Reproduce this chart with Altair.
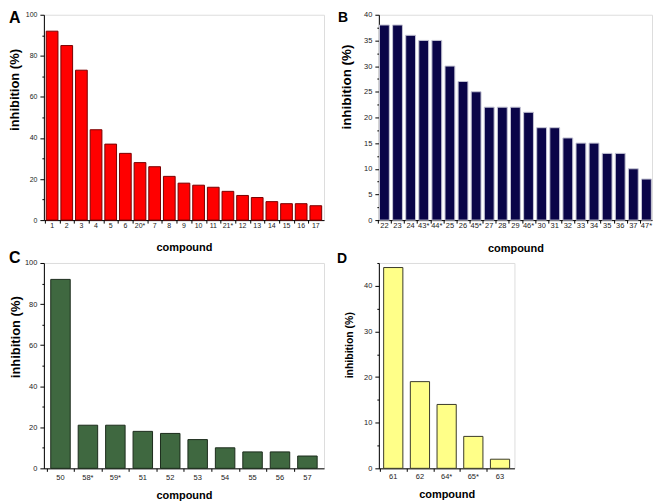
import altair as alt
import pandas as pd

# ---- data ----
a_labels = ["1", "2", "3", "4", "5", "6", "20*", "7", "8", "9", "10", "11", "21*", "12", "13", "14", "15", "16", "17"]
a_values = [92, 85, 73, 44, 37, 32.5, 28, 26, 21.3, 18, 17, 16, 14, 12, 11, 9, 8, 8, 7]

b_labels = ["22", "23", "24", "43*", "44*", "25", "26", "45*", "27", "28", "29", "46*",
            "30", "31", "32", "33", "34", "35", "36", "37", "47*"]
b_values = [38, 38, 36, 35, 35, 30, 27, 25, 22, 22, 22, 21, 18, 18, 16, 15, 15, 13, 13, 10, 8]

c_labels = ["50", "58*", "59*", "51", "52", "53", "54", "55", "56", "57"]
c_values = [92, 21, 21, 18, 17, 14, 10, 8, 8, 6]

d_labels = ["61", "62", "64*", "65*", "63"]
d_values = [44, 19, 14, 7, 2]

a_major = [0, 20, 40, 60, 80, 100]
a_minor = [10, 30, 50, 70, 90]
b_major = [0, 5, 10, 15, 20, 25, 30, 35, 40]
b_minor = [2.5, 7.5, 12.5, 17.5, 22.5, 27.5, 32.5, 37.5]
d_major = [0, 10, 20, 30, 40]
d_minor = [5, 15, 25, 35, 45]

FONT = "Liberation Sans"


def panel(letter, labels, values, major, minor, ymax, p):
    df = pd.DataFrame({"compound": labels, "inhibition": values})
    n = len(labels)
    step = p["width"] / (n - p["pi"] + 2 * p["po"])
    xscale = alt.Scale(domain=labels, paddingInner=p["pi"], paddingOuter=p["po"])
    yscale = alt.Scale(domain=[0, ymax], nice=False, zero=True)
    base = alt.Chart(df)
    bars = base.mark_bar(fill=p["fill"], stroke=p["stroke"], strokeWidth=1).encode(
        x=alt.X("compound:N", sort=labels, scale=xscale,
                axis=alt.Axis(title="compound", orient="bottom", labelAngle=0, ticks=False,
                              tickSize=0, labelPadding=p["xlp"], labelFontSize=p["ls"],
                              titleFontSize=11, titlePadding=p["xtp"], domainColor="black",
                              labelColor="#222", titleColor="black", titleFontWeight="bold")),
        y=alt.Y("inhibition:Q", scale=yscale,
                axis=alt.Axis(title="inhibition (%)", orient="left", values=major, tickSize=4,
                              tickColor="black", domainColor="black", labelPadding=3,
                              labelFontSize=p["ls"], labelColor="#222", grid=False,
                              titleFontSize=p["yts"], titleFontWeight="bold", titleColor="black",
                              titleX=p["ytx"], titleY=p["yty"], titleAngle=270,
                              titleBaseline="bottom", titleAlign="center")),
    )
    ticks = base.mark_bar(opacity=0).encode(
        x=alt.X("compound:N", sort=labels, scale=xscale,
                axis=alt.Axis(title=None, orient="bottom", labels=False, domain=False,
                              ticks=True, tickSize=3, tickColor="black", bandPosition=0,
                              tickOffset=-p["pi"] * step / 2)),
        y=alt.Y("inhibition:Q", scale=yscale,
                axis=alt.Axis(title=None, orient="left", labels=False, domain=False,
                              values=minor, tickSize=2, tickColor="black", grid=False)),
    )
    tag = alt.Chart(pd.DataFrame({"t": [letter]})).mark_text(
        align="left", baseline="top", fontSize=p["lfs"], fontWeight="bold", font=FONT,
        color="black"
    ).encode(x=alt.value(p["lx"]), y=alt.value(p["ly"]), text="t:N")
    return alt.layer(bars, ticks, tag).resolve_axis(x="independent", y="independent").properties(
        width=p["width"], height=p["height"])


pa = dict(width=281, height=206, pi=0.2, po=0.16, fill="#ff0000", stroke="#7a0000",
          ls=7, xlp=1.5, xtp=13, yts=13, ytx=-22, yty=75, lfs=16, lx=-35, ly=-5)
pb = dict(width=274, height=206, pi=0.25, po=0.05, fill="#0a0548", stroke="#c4c4d4",
          ls=7.5, xlp=1.5, xtp=13, yts=13.5, ytx=-25, yty=72, lfs=14, lx=-41, ly=-4)
pc = dict(width=281, height=206, pi=0.29, po=0.25, fill="#3f6840", stroke="#1c2c1c",
          ls=7.5, xlp=5, xtp=9, yts=13, ytx=-21, yty=74, lfs=16, lx=-35, ly=-13)
pd_ = dict(width=136, height=206, pi=0.28, po=0.18, fill="#ffff88", stroke="#3a3a2a",
           ls=7.5, xlp=4, xtp=9, yts=10.5, ytx=-24, yty=82, lfs=14, lx=-42, ly=-11)

A = panel("A", a_labels, a_values, a_major, a_minor, 100, pa)
B = panel("B", b_labels, b_values, b_major, b_minor, 40, pb)
C = panel("C", c_labels, c_values, a_major, a_minor, 100, pc)
D = panel("D", d_labels, d_values, d_major, d_minor, 45, pd_)

chart = alt.concat(A, B, C, D, columns=2, spacing={"row": 43, "column": 55},
                   bounds="flush").properties(padding=0).configure_view(
    strokeWidth=0).configure_axis(labelFont=FONT, titleFont=FONT).configure(background="white")

chart.save("out.html", embed_options={"renderer": "svg", "actions": False})
